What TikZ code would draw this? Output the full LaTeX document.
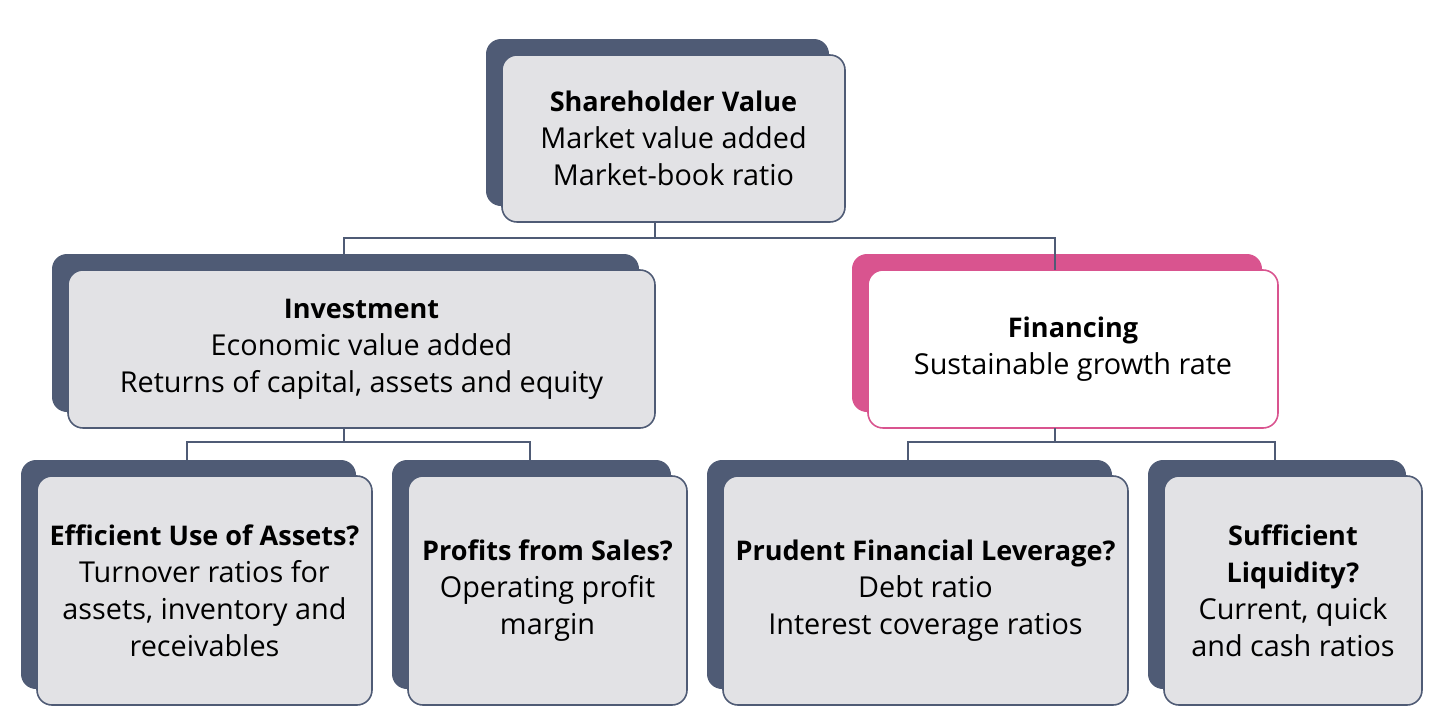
\documentclass[tikz,border=0pt]{standalone}
\usepackage{fontspec}
\setmainfont{Open Sans}
\newcommand\ttl[1]{{\fontsize{15.4}{21}\selectfont\bfseries #1}}
\begin{document}
\begin{tikzpicture}[x=0.02cm,y=-0.02cm,
 back/.style={draw=none,fill=backc,rounded corners=0.3cm,inner sep=0},
 front/.style={draw=linec,line width=0.9pt,fill=frontc,rounded corners=0.3cm,inner sep=0,align=center,font=\fontsize{16.4}{21}\selectfont},
 conn/.style={draw=linec,line width=0.9pt}]
\definecolor{backc}{HTML}{4F5B75}
\definecolor{frontc}{HTML}{E2E2E5}
\definecolor{linec}{HTML}{4F5B75}
\definecolor{pinkc}{HTML}{D9548F}
\useasboundingbox (0,0) rectangle (1440,720);
\newcommand\card[8]{% name, x1,y1,x2,y2, backcolor, extra front style, text
 \node[back,fill=#6,minimum width=(#4-#2)*0.02cm,minimum height=(#5-#3)*0.02cm] (#1b) at ({(#2+#4)/2-16},{(#3+#5)/2-16}) {};
 \node[front,#7,minimum width=(#4-#2)*0.02cm,minimum height=(#5-#3)*0.02cm] (#1) at ({(#2+#4)/2},{(#3+#5)/2}) {#8};}
\card{top}{502}{55}{845}{222}{backc}{}{\ttl{Shareholder Value}\\Market value added\\Market-book ratio}
\card{inv}{68}{270}{655}{428}{backc}{}{\ttl{Investment}\\Economic value added\\Returns of capital, assets and equity}
\card{fin}{868}{270}{1278}{428}{pinkc}{fill=white,draw=pinkc}{\ttl{Financing}\\Sustainable growth rate}
\card{eff}{37}{476}{372}{705}{backc}{}{\ttl{Efficient Use of Assets?}\\Turnover ratios for\\assets, inventory and\\receivables}
\card{pro}{408}{476}{687}{705}{backc}{}{\ttl{Profits from Sales?}\\Operating profit\\margin}
\card{pru}{723}{476}{1128}{705}{backc}{}{\ttl{Prudent Financial Leverage?}\\Debt ratio\\Interest coverage ratios}
\card{suf}{1164}{476}{1422}{705}{backc}{}{\ttl{Sufficient}\\\ttl{Liquidity?}\\Current, quick\\and cash ratios}
\coordinate (j1) at (655,238);
\coordinate (j2) at (344,442);
\coordinate (j3) at (1055,442);
\draw[conn] (655,222) -- (j1);
\draw[conn] (j1) -| (344,270);
\draw[conn] (j1) -| (1055,270);
\draw[conn] (344,428) -- (j2);
\draw[conn] (j2) -| (187,476);
\draw[conn] (j2) -| (530,476);
\draw[conn] (1055,428) -- (j3);
\draw[conn] (j3) -| (908,476);
\draw[conn] (j3) -| (1275,476);
\end{tikzpicture}
\end{document}
